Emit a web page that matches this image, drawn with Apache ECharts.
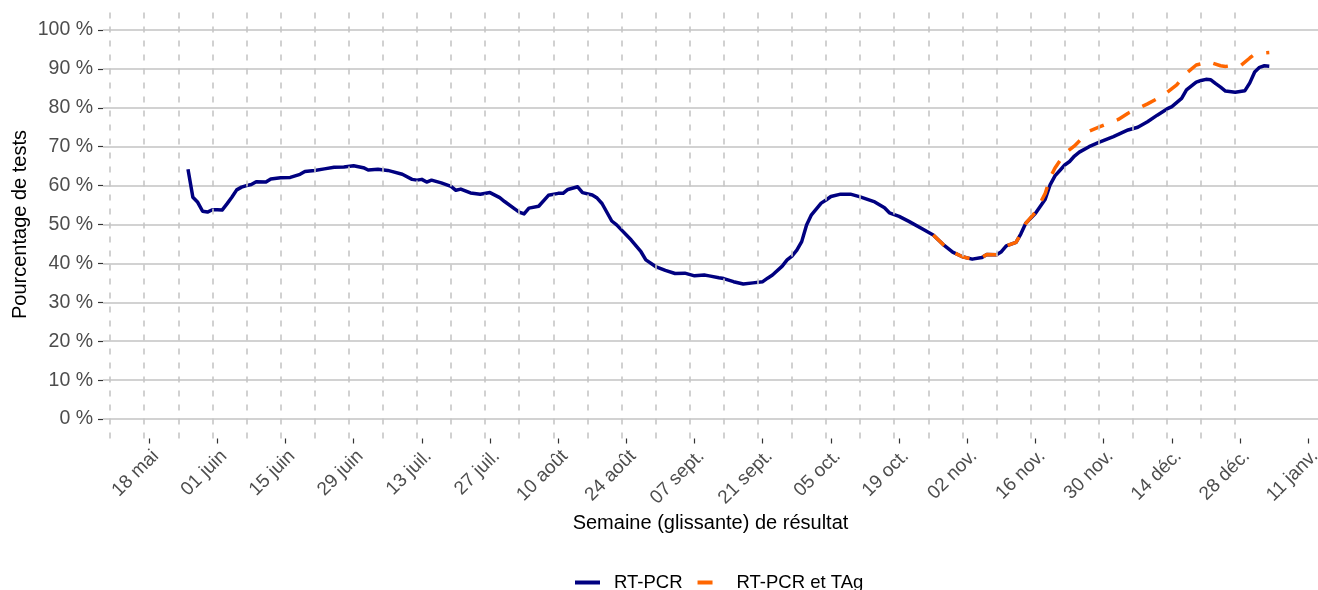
<!DOCTYPE html>
<html><head><meta charset="utf-8">
<script src="https://cdn.jsdelivr.net/npm/echarts@6/dist/echarts.min.js"></script>
<style>html,body{margin:0;padding:0;background:#fff}#chart{width:1318px;height:590px}</style>
</head><body><div id="chart"></div>
<script>
// ---- data ----
const originDate = '2020-05-18';            // day 0 of the x scale
const xDomainDays = [-9.45, 240.0];         // visible x range (days from origin)
const yDomain = [-5, 105];
const yTicks = [0, 10, 20, 30, 40, 50, 60, 70, 80, 90, 100];

const tickDates = ['2020-05-18','2020-06-01','2020-06-15','2020-06-29','2020-07-13','2020-07-27','2020-08-10','2020-08-24','2020-09-07','2020-09-21','2020-10-05','2020-10-19','2020-11-02','2020-11-16','2020-11-30','2020-12-14','2020-12-28','2021-01-11'];
const tickLabels = ['18 mai','01 juin','15 juin','29 juin','13 juil.','27 juil.','10 août','24 août','07 sept.','21 sept.','05 oct.','19 oct.','02 nov.','16 nov.','30 nov.','14 déc.','28 déc.','11 janv.'];

const weekLineDates = ['2020-05-10','2020-05-17','2020-05-24','2020-05-31','2020-06-07','2020-06-14','2020-06-21','2020-06-28','2020-07-05','2020-07-12','2020-07-19','2020-07-26','2020-08-02','2020-08-09','2020-08-16','2020-08-23','2020-08-30','2020-09-06','2020-09-13','2020-09-20','2020-09-27','2020-10-04','2020-10-11','2020-10-18','2020-10-25','2020-11-01','2020-11-08','2020-11-15','2020-11-22','2020-11-29','2020-12-06','2020-12-13','2020-12-20','2020-12-27'];

const seriesNames = ['RT-PCR', 'RT-PCR et TAg'];

const pcrDates = ['2020-05-26','2020-05-27','2020-05-28','2020-05-29','2020-05-30','2020-05-31','2020-06-01','2020-06-02','2020-06-03','2020-06-04','2020-06-05','2020-06-06','2020-06-07','2020-06-08','2020-06-09','2020-06-11','2020-06-12','2020-06-14','2020-06-16','2020-06-18','2020-06-19','2020-06-21','2020-06-23','2020-06-25','2020-06-27','2020-06-29','2020-07-01','2020-07-02','2020-07-04','2020-07-06','2020-07-07','2020-07-09','2020-07-11','2020-07-12','2020-07-13','2020-07-14','2020-07-15','2020-07-17','2020-07-19','2020-07-20','2020-07-21','2020-07-23','2020-07-25','2020-07-27','2020-07-29','2020-07-30','2020-08-01','2020-08-02','2020-08-03','2020-08-04','2020-08-06','2020-08-08','2020-08-10','2020-08-11','2020-08-12','2020-08-14','2020-08-15','2020-08-17','2020-08-18','2020-08-19','2020-08-21','2020-08-22','2020-08-25','2020-08-27','2020-08-28','2020-08-30','2020-09-01','2020-09-03','2020-09-05','2020-09-07','2020-09-09','2020-09-10','2020-09-12','2020-09-13','2020-09-15','2020-09-17','2020-09-19','2020-09-21','2020-09-22','2020-09-23','2020-09-25','2020-09-26','2020-09-27','2020-09-28','2020-09-29','2020-09-30','2020-10-01','2020-10-03','2020-10-04','2020-10-05','2020-10-07','2020-10-09','2020-10-11','2020-10-14','2020-10-16','2020-10-17','2020-10-19','2020-10-21','2020-10-24','2020-10-26','2020-10-28','2020-10-30','2020-11-01','2020-11-03','2020-11-05','2020-11-06','2020-11-08','2020-11-09','2020-11-10','2020-11-12','2020-11-13','2020-11-14','2020-11-16','2020-11-18','2020-11-19','2020-11-20','2020-11-22','2020-11-23','2020-11-24','2020-11-25','2020-11-27','2020-11-29','2020-12-02','2020-12-05','2020-12-07','2020-12-09','2020-12-11','2020-12-13','2020-12-14','2020-12-16','2020-12-17','2020-12-19','2020-12-20','2020-12-21','2020-12-22','2020-12-23','2020-12-24','2020-12-25','2020-12-27','2020-12-29','2020-12-30','2020-12-31','2021-01-01','2021-01-02','2021-01-03'];
const pcrValues = [64.2,57.0,55.7,53.4,53.2,53.8,53.8,53.7,55.3,57.0,58.9,59.6,60.0,60.3,61.0,60.9,61.7,62.0,62.1,62.9,63.6,63.9,64.3,64.7,64.8,65.1,64.6,64.0,64.2,63.9,63.6,62.9,61.6,61.4,61.6,60.9,61.4,60.7,59.8,58.8,59.1,58.1,57.8,58.2,56.9,55.9,54.1,53.2,52.7,54.2,54.7,57.5,58.0,58.0,59.0,59.7,58.2,57.6,56.8,55.4,50.9,49.9,46.0,43.0,40.9,39.2,38.2,37.4,37.5,36.8,37.0,36.8,36.3,36.1,35.3,34.7,35.0,35.3,36.2,37.0,39.3,40.9,41.9,43.4,45.6,49.9,52.5,55.5,56.3,57.2,57.8,57.8,57.1,55.8,54.3,53.0,52.1,50.8,48.7,47.3,44.9,42.9,41.7,41.1,41.5,42.3,42.2,43.0,44.5,45.4,47.6,50.3,52.9,56.5,60.2,62.5,65.3,66.2,67.6,68.6,70.0,71.1,72.6,74.3,75.0,76.4,78.1,79.7,80.3,82.4,84.6,86.6,87.0,87.3,87.2,86.2,85.3,84.3,84.0,84.4,86.4,89.2,90.4,90.8,90.7];

const tagDates = ['2020-10-26','2020-10-28','2020-10-30','2020-11-01','2020-11-03','2020-11-05','2020-11-06','2020-11-08','2020-11-09','2020-11-10','2020-11-12','2020-11-13','2020-11-14','2020-11-16','2020-11-18','2020-11-19','2020-11-20','2020-11-22','2020-11-24','2020-11-27','2020-11-29','2020-12-03','2020-12-05','2020-12-09','2020-12-12','2020-12-15','2020-12-17','2020-12-19','2020-12-20','2020-12-21','2020-12-22','2020-12-24','2020-12-25','2020-12-27','2020-12-28','2020-12-30','2020-12-31','2021-01-02','2021-01-03'];
const tagValues = [47.3,44.9,42.9,41.7,41.1,41.5,42.3,42.2,43.0,44.5,45.4,47.6,50.3,53.2,58.0,62.0,64.5,68.2,70.2,74.0,75.0,77.0,78.6,81.0,83.0,85.9,88.9,91.0,91.3,92.0,91.6,90.8,90.6,91.0,90.7,92.8,93.8,94.1,94.2];

// ---- helpers ----
const DAY = 86400000;
const t0 = Date.parse(originDate);
const toDay = s => (Date.parse(s) - t0) / DAY;
const tickDays = tickDates.map(toDay);
const pair = (ds, vs) => ds.map((d, i) => [toDay(d), vs[i]]);

const FONT = '"Liberation Sans", Arial, sans-serif';
const chart = echarts.init(document.getElementById('chart'), null, {renderer: 'canvas'});

chart.setOption({
  animation: false,
  backgroundColor: '#ffffff',
  textStyle: {fontFamily: FONT},
  grid: {left: 103, right: 0, top: 10.5, bottom: 151.5, containLabel: false, outerBoundsMode: 'none'},
  legend: {
    data: seriesNames,
    left: 568, top: 568,
    itemWidth: 25, itemHeight: 14, itemGap: 13,
    itemStyle: {opacity: 0},
    lineStyle: {width: 4},
    textStyle: {fontSize: 18.5, color: '#000', fontFamily: FONT, padding: [0, 0, 0, 9]}
  },
  xAxis: {
    type: 'value', min: xDomainDays[0], max: xDomainDays[1],
    axisLine: {show: false, onZero: false},
    axisTick: {show: true, customValues: tickDays, length: 5, lineStyle: {color: '#333', width: 1.2}},
    axisLabel: {
      customValues: tickDays, rotate: 45, align: 'right', verticalAlign: 'top', margin: 8,
      fontSize: 19, color: '#4d4d4d', fontFamily: FONT,
      formatter: v => { const i = tickDays.findIndex(t => Math.abs(t - v) < 0.01); return i >= 0 ? tickLabels[i] : ''; }
    },
    splitLine: {show: false},
    name: 'Semaine (glissante) de résultat', nameLocation: 'middle', nameGap: 75, nameMoveOverlap: false,
    nameTextStyle: {fontSize: 20, color: '#000', fontFamily: FONT}
  },
  yAxis: {
    type: 'value', min: yDomain[0], max: yDomain[1],
    axisLine: {show: false, onZero: false},
    axisTick: {show: true, customValues: yTicks, length: 5, lineStyle: {color: '#333', width: 1.2}},
    axisLabel: {customValues: yTicks, formatter: v => v + ' %', fontSize: 19.5, color: '#4d4d4d', margin: 10, fontFamily: FONT},
    splitLine: {show: false},
    name: 'Pourcentage de tests', nameLocation: 'middle', nameGap: 73, nameMoveOverlap: false,
    nameTextStyle: {fontSize: 20, color: '#000', fontFamily: FONT}
  },
  series: [
    {
      name: '_hgrid', type: 'line', data: [], silent: true, z: 0,
      markLine: {
        silent: true, symbol: ['none', 'none'], z: 0, animation: false,
        label: {show: false}, emphasis: {disabled: true},
        lineStyle: {color: '#c3c3c3', width: 1.6, type: 'solid'},
        data: yTicks.map(v => ({yAxis: v}))
      }
    },
    {
      name: seriesNames[0], type: 'line', data: pair(pcrDates, pcrValues),
      showSymbol: false, symbol: 'none', z: 3,
      lineStyle: {color: '#000080', width: 3.5, join: 'round'}, itemStyle: {color: '#000080'}
    },
    {
      name: seriesNames[1], type: 'line', data: pair(tagDates, tagValues),
      showSymbol: false, symbol: 'none', z: 4,
      lineStyle: {color: '#ff6600', width: 3.5, type: [15, 14]}, itemStyle: {color: '#ff6600'}
    },
    {
      name: '_vgrid', type: 'line', data: [], silent: true, z: 6,
      markLine: {
        silent: true, symbol: ['none', 'none'], z: 6, animation: false,
        label: {show: false}, emphasis: {disabled: true},
        lineStyle: {color: '#c6c6c6', width: 1.6, type: [6, 8]},
        data: weekLineDates.map(d => ({xAxis: toDay(d)}))
      }
    }
  ]
});
</script></body></html>
